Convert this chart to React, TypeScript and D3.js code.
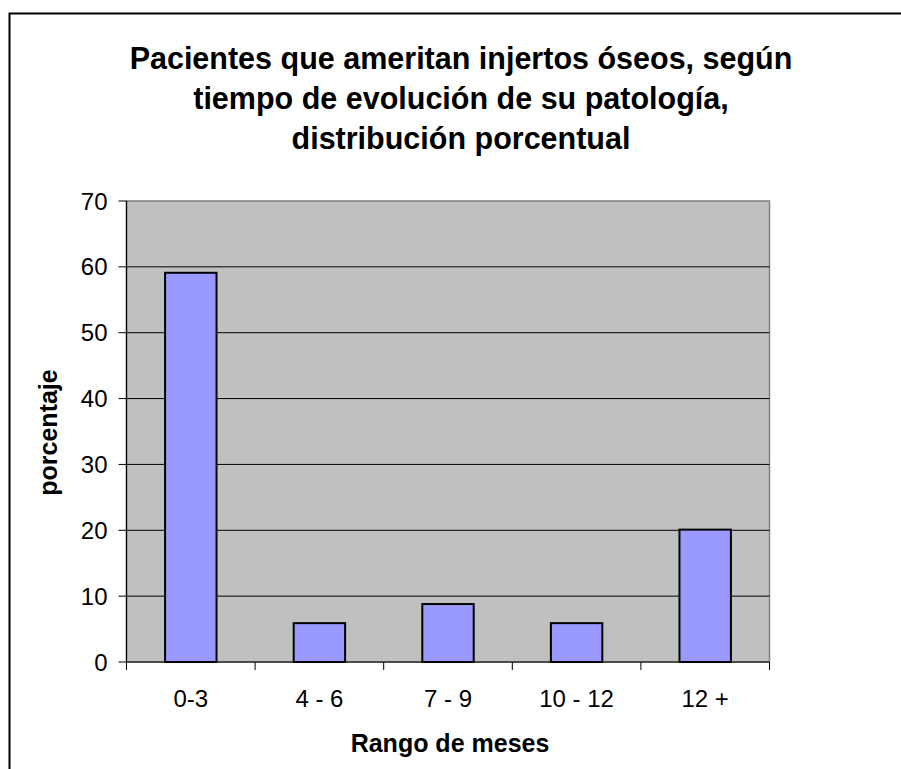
import React from "react";
import * as d3 from "d3";

const categories = ["0-3", "4 - 6", "7 - 9", "10 - 12", "12 +"];
const values = [59.1, 5.9, 8.8, 5.9, 20.1];
const yTicks = [0, 10, 20, 30, 40, 50, 60, 70];
const titleLines = [
  "Pacientes que ameritan injertos óseos, según",
  "tiempo de evolución de su patología,",
  "distribución porcentual",
];
const xTitle = "Rango de meses";
const yTitle = "porcentaje";

export default function App() {
  const W = 901, H = 769;
  const left = 126.5, right = 769.5, top = 201, bottom = 662;
  const x = d3.scaleBand<string>().domain(categories).range([left, right]).paddingInner(0.6).paddingOuter(0.3);
  const xEdge = d3.scaleLinear().domain([0, categories.length]).range([left, right]);
  const y = d3.scaleLinear().domain([0, 70]).range([bottom, top]);
  const font = "'Liberation Sans', Arial, sans-serif";
  return (
    <svg width={W} height={H} style={{ position: "absolute", left: 0, top: 0 }} fontFamily={font}>
      <rect x={0} y={0} width={W} height={H} fill="#fff" />
      <rect x={9.5} y={13.5} width={W + 20} height={H + 20} fill="#fff" stroke="#000" strokeWidth={2} />
      {titleLines.map((t, i) => (
        <text key={i} x={461} y={68.5 + i * 40} textAnchor="middle" fontSize={30.5} fontWeight="bold" fill="#000">{t}</text>
      ))}
      <rect x={left} y={top} width={right - left} height={bottom - top} fill="#C0C0C0" stroke="#808080" strokeWidth={1.5} />
      {yTicks.filter(v => v > 0 && v < 70).map(v => (
        <line key={v} x1={left} x2={right} y1={y(v)} y2={y(v)} stroke="#000" strokeWidth={1} />
      ))}
      {categories.map((c, i) => (
        <rect key={c} x={x(c)} y={y(values[i])} width={x.bandwidth()} height={bottom - y(values[i])}
          fill="#9999FF" stroke="#000" strokeWidth={2} />
      ))}
      <line x1={left} x2={left} y1={top} y2={bottom} stroke="#000" strokeWidth={1.2} />
      <line x1={left} x2={right} y1={bottom} y2={bottom} stroke="#000" strokeWidth={1.2} />
      {yTicks.map(v => (
        <g key={v}>
          <line x1={left - 8} x2={left} y1={y(v)} y2={y(v)} stroke="#000" strokeWidth={1} />
          <text x={107.5} y={y(v) + 8.5} textAnchor="end" fontSize={24} fill="#000">{v}</text>
        </g>
      ))}
      {d3.range(categories.length + 1).map(i => (
        <line key={i} x1={xEdge(i)} x2={xEdge(i)} y1={bottom} y2={bottom + 8} stroke="#000" strokeWidth={1} />
      ))}
      {categories.map(c => (
        <text key={c} x={(x(c) as number) + x.bandwidth() / 2} y={707} textAnchor="middle" fontSize={24} fill="#000">{c}</text>
      ))}
      <text x={450} y={751.5} textAnchor="middle" fontSize={25} fontWeight="bold" fill="#000">{xTitle}</text>
      <text transform={`translate(57,432.5) rotate(-90)`} textAnchor="middle" fontSize={25} fontWeight="bold" fill="#000">{yTitle}</text>
    </svg>
  );
}
